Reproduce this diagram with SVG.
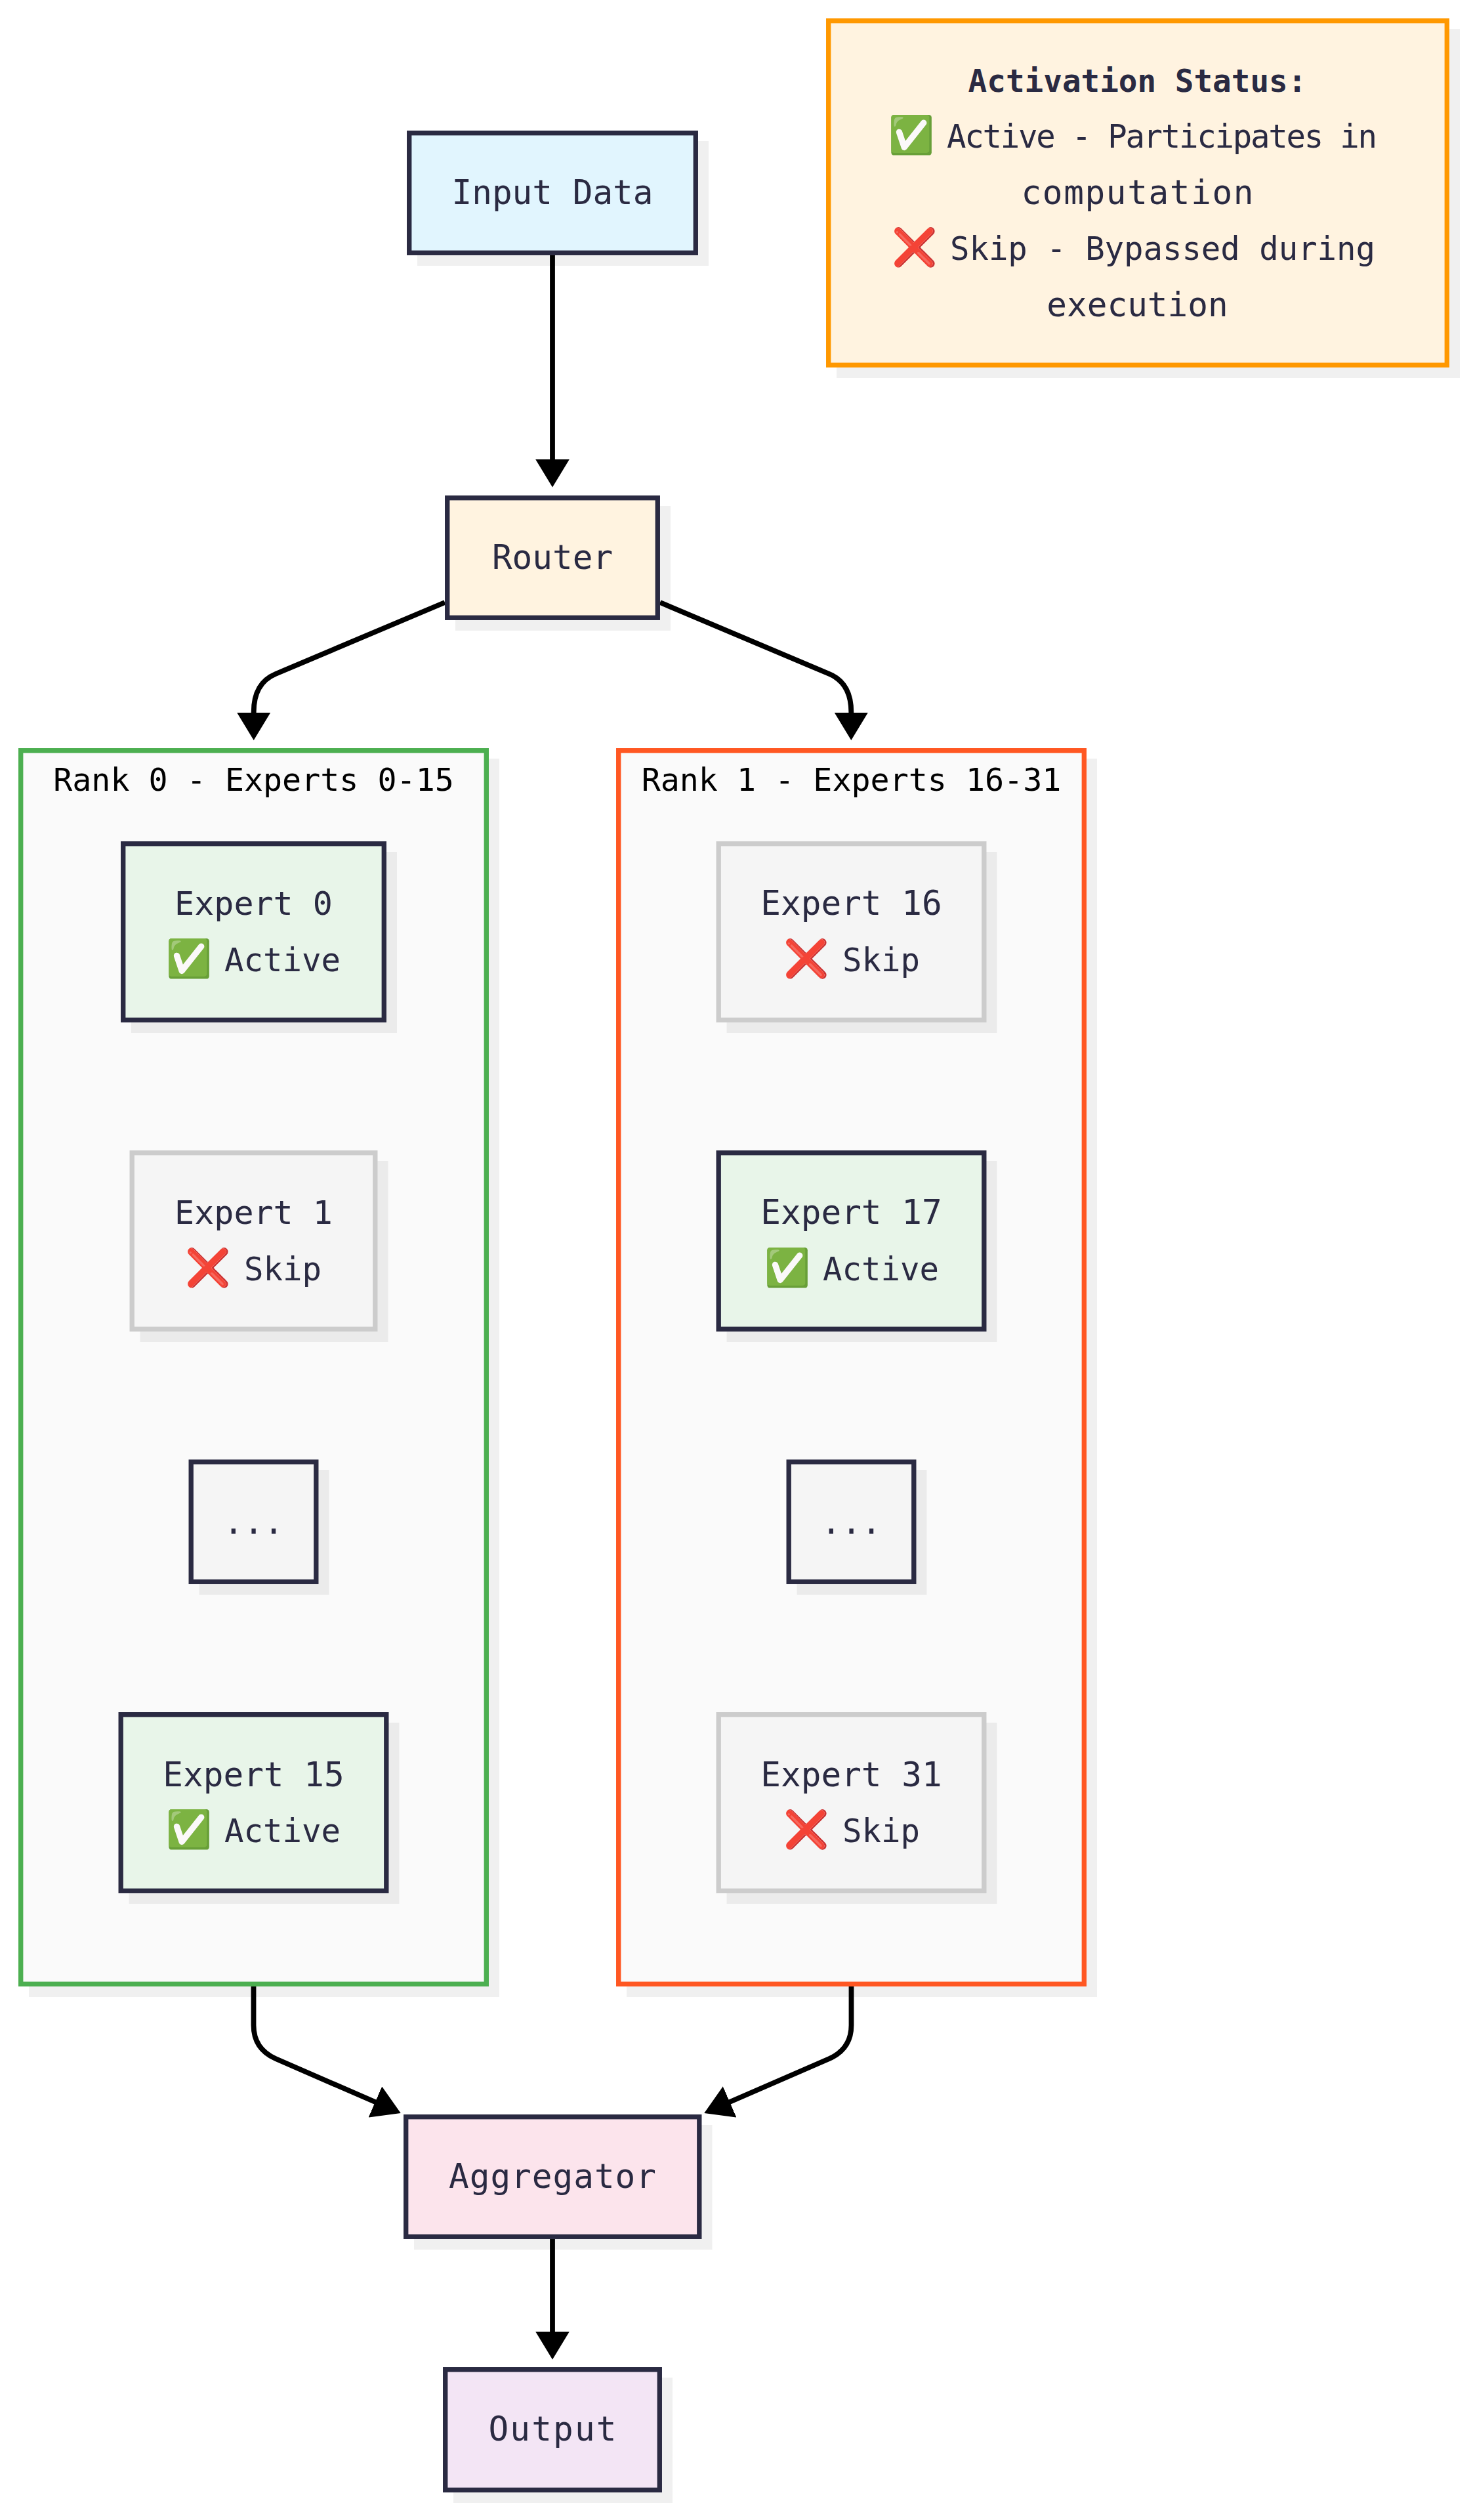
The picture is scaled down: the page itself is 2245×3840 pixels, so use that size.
<svg xmlns="http://www.w3.org/2000/svg" width="2245" height="3840" viewBox="0 0 2245 3840">
<defs>
<marker id="arrow" markerUnits="userSpaceOnUse" markerWidth="44" markerHeight="52" refX="10" refY="25.8" orient="auto"><path d="M0,0L42.4,25.8L0,51.6Z" fill="#000"/></marker>
</defs>
<style>
text{font-family:"DejaVu Sans Mono","Liberation Mono",monospace;font-size:51px;text-anchor:middle;fill:#2a2a42}
.l{text-anchor:start;font-size:49px}
.m{font-size:50px}
.e{font-size:56px}
.sh{fill:#000;fill-opacity:.06}
.n{stroke:#2a2a42;stroke-width:7.35}
.s{stroke:#ccc;stroke-width:7.35}
.act{fill:#e8f5e9}.skp{fill:#f5f5f5}
.cl{fill:#fafafa;stroke-width:7.35}
.c{fill:none;stroke:#000;stroke-width:7.8;marker-end:url(#arrow)}
.t{fill:#000;font-size:48.3px}
</style>
<g id="rank0">
<rect class="sh" x="44" y="1156" width="717" height="1887"/>
<rect class="cl" x="31.7" y="1143.7" width="709.6" height="1879.6" stroke="#4caf50"/>
<text class="t" x="386.5" y="1205">Rank 0 - Experts 0-15</text>
</g>
<g id="rank1">
<rect class="sh" x="955" y="1156" width="717" height="1887"/>
<rect class="cl" x="942.7" y="1143.7" width="709.6" height="1879.6" stroke="#ff5722"/>
<text class="t" x="1297.5" y="1205">Rank 1 - Experts 16-31</text>
</g>
<g id="connectors">
<path class="c" d="M842,389V710"/>
<path class="c" d="M678,918L420,1027Q386.7,1041 386.7,1085V1095.5"/>
<path class="c" d="M1006,918L1264,1027Q1297.3,1041 1297.3,1085V1095.5"/>
<path class="c" d="M386.5,3027V3086Q386.5,3122 420,3137L581,3207"/>
<path class="c" d="M1297.5,3027V3086Q1297.5,3122 1264,3137L1103,3207"/>
<path class="c" d="M842,3412V3563"/>
</g>
<g id="input">
<rect class="sh" x="636" y="215" width="444" height="190"/>
<rect class="n" x="623.7" y="202.7" width="436.6" height="182.6" fill="#e1f5fe"/>
<text x="842" y="311">Input Data</text>
</g>
<g id="router">
<rect class="sh" x="694" y="771" width="328" height="190"/>
<rect class="n" x="681.7" y="758.7" width="320.6" height="182.6" fill="#fff3e0"/>
<text x="842" y="867">Router</text>
</g>
<g id="expert0">
<rect class="sh" x="200" y="1298" width="405" height="276"/>
<rect class="n act" x="187.7" y="1285.7" width="397.6" height="268.6"/>
<text class="m" x="386.5" y="1394">Expert 0</text>
<text class="l" y="1480"><tspan class="e" x="253">✅</tspan><tspan x="342">Active</tspan></text>
</g>
<g id="expert1">
<rect class="sh" x="213.5" y="1769" width="378" height="276"/>
<rect class="s skp" x="201.2" y="1756.7" width="370.6" height="268.600"/>
<text class="m" x="386.5" y="1865">Expert 1</text>
<text class="l" y="1951"><tspan class="e" x="282">❌</tspan><tspan x="372">Skip</tspan></text>
</g>
<g id="dots0">
<rect class="sh" x="303.5" y="2240" width="198" height="190"/>
<rect class="n skp" x="291.2" y="2227.7" width="190.6" height="182.6"/>
<text x="386.5" y="2337">...</text>
</g>
<g id="expert15">
<rect class="sh" x="196.5" y="2625" width="412" height="276"/>
<rect class="n act" x="184.2" y="2612.7" width="404.6" height="268.6"/>
<text x="386.5" y="2722">Expert 15</text>
<text class="l" y="2807"><tspan class="e" x="253">✅</tspan><tspan x="342">Active</tspan></text>
</g>
<g id="expert16">
<rect class="sh" x="1107.5" y="1298" width="412" height="276"/>
<rect class="s skp" x="1095.2" y="1285.7" width="404.6" height="268.6"/>
<text x="1297.5" y="1394">Expert 16</text>
<text class="l" y="1480"><tspan class="e" x="1194">❌</tspan><tspan x="1284">Skip</tspan></text>
</g>
<g id="expert17">
<rect class="sh" x="1107.5" y="1769" width="412" height="276"/>
<rect class="n act" x="1095.2" y="1756.7" width="404.6" height="268.6"/>
<text x="1297.5" y="1865">Expert 17</text>
<text class="l" y="1951"><tspan class="e" x="1165">✅</tspan><tspan x="1254">Active</tspan></text>
</g>
<g id="dots1">
<rect class="sh" x="1214.5" y="2240" width="198" height="190"/>
<rect class="n skp" x="1202.2" y="2227.7" width="190.6" height="182.6"/>
<text x="1297.5" y="2337">...</text>
</g>
<g id="expert31">
<rect class="sh" x="1107.5" y="2625" width="412" height="276"/>
<rect class="s skp" x="1095.2" y="2612.7" width="404.6" height="268.6"/>
<text x="1297.5" y="2722">Expert 31</text>
<text class="l" y="2807"><tspan class="e" x="1194">❌</tspan><tspan x="1284">Skip</tspan></text>
</g>
<g id="aggregator">
<rect class="sh" x="631" y="3238" width="454.5" height="190"/>
<rect class="n" x="618.7" y="3225.7" width="447.1" height="182.6" fill="#fce4ec"/>
<text x="842" y="3334" textLength="316" lengthAdjust="spacing">Aggregator</text>
</g>
<g id="output">
<rect class="sh" x="691" y="3623" width="334" height="191"/>
<rect class="n" x="678.7" y="3610.700" width="326.6" height="183.6" fill="#f3e5f5"/>
<text x="842" y="3719" textLength="195" lengthAdjust="spacing">Output</text>
</g>
<g id="legend">
<rect class="sh" x="1275" y="44" width="950" height="532"/>
<rect x="1262.7" y="31.7" width="942.6" height="524.6" fill="#fff3e0" stroke="#ff9800" stroke-width="7.35"/>
<text x="1733.5" y="140" style="font-weight:700;font-size:47.6px">Activation Status:</text>
<text class="l" y="225"><tspan class="e" x="1354">✅</tspan><tspan x="1443" textLength="656" lengthAdjust="spacing">Active - Participates in</tspan></text>
<text x="1733.5" y="311" textLength="354" lengthAdjust="spacing">computation</text>
<text class="l" y="396"><tspan class="e" x="1359">❌</tspan><tspan x="1448" textLength="648" lengthAdjust="spacing">Skip - Bypassed during</tspan></text>
<text x="1733.5" y="482">execution</text>
</g>
</svg>
